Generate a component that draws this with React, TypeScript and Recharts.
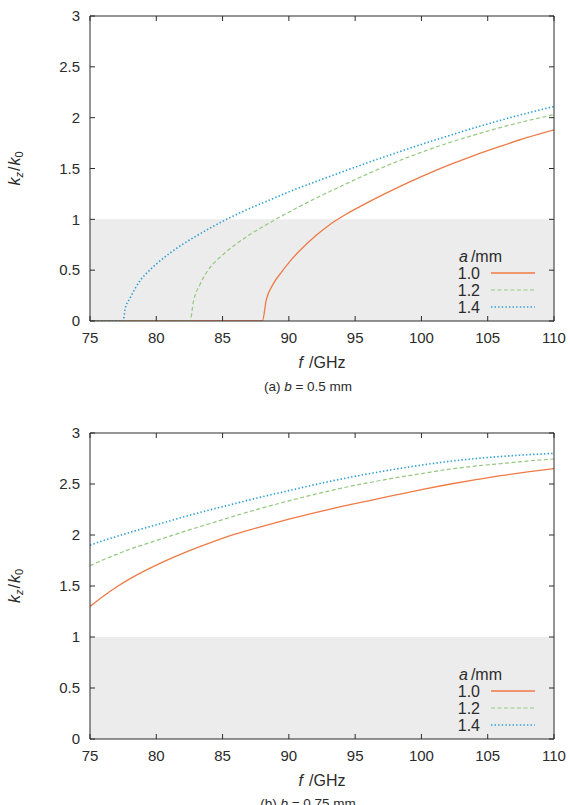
import React from "react";
import { LineChart, Line, XAxis, YAxis, ReferenceArea, Legend } from "recharts";

const FONT = '"Liberation Sans", Arial, sans-serif';
const INK = "#2b2b2b";

// axis ticks: frequency in GHz, k_z/k_0
const freqTicks = [75, 80, 85, 90, 95, 100, 105, 110];
const ratioTicks = [0, 0.5, 1, 1.5, 2, 2.5, 3];

// (a) b = 0.5 mm
const fA10 = [75, 88.0, 88.3, 88.8, 89.5, 90, 91, 92, 93, 94, 95, 96, 98, 100, 102, 104, 106, 108, 110];
const kA10 = [0, 0, 0.21, 0.36, 0.49, 0.575, 0.715, 0.835, 0.94, 1.025, 1.1, 1.17, 1.3, 1.42, 1.53, 1.63, 1.72, 1.805, 1.88];

const fA12 = [75, 82.55, 82.8, 83.3, 83.8, 84.5, 85, 86, 87, 88, 89, 90, 91, 92, 94, 96, 98, 100, 102, 104, 106, 108, 110];
const kA12 = [0, 0, 0.19, 0.36, 0.48, 0.59, 0.65, 0.755, 0.845, 0.925, 1.0, 1.07, 1.14, 1.205, 1.33, 1.45, 1.56, 1.66, 1.75, 1.83, 1.905, 1.97, 2.03];

const fA14 = [75, 77.5, 77.65, 78, 78.8, 79.5, 80, 81, 82, 83, 84, 85, 86, 87, 88, 89, 90, 92, 94, 96, 98, 100, 102, 104, 106, 108, 110];
const kA14 = [0, 0, 0.12, 0.22, 0.4, 0.5, 0.56, 0.665, 0.755, 0.835, 0.91, 0.98, 1.045, 1.105, 1.16, 1.215, 1.27, 1.37, 1.465, 1.56, 1.65, 1.737, 1.82, 1.9, 1.975, 2.045, 2.11];

// (b) b = 0.75 mm
const fB = [75, 76, 77, 78, 80, 82, 84, 86, 88, 90, 92, 94, 96, 98, 100, 102, 104, 106, 108, 110];
const kB10 = [1.3, 1.4, 1.49, 1.57, 1.705, 1.82, 1.92, 2.01, 2.085, 2.155, 2.22, 2.28, 2.335, 2.39, 2.445, 2.495, 2.54, 2.582, 2.618, 2.65];
const kB12 = [1.7, 1.757, 1.81, 1.86, 1.945, 2.03, 2.11, 2.19, 2.265, 2.335, 2.4, 2.46, 2.512, 2.56, 2.602, 2.643, 2.675, 2.7, 2.725, 2.745];
const kB14 = [1.9, 1.945, 1.985, 2.025, 2.1, 2.175, 2.245, 2.31, 2.375, 2.435, 2.495, 2.55, 2.6, 2.645, 2.685, 2.72, 2.748, 2.77, 2.787, 2.8];

const pts = (fs: number[], ks: number[]) => fs.map((f, i) => ({ f, k: ks[i] }));

type Curve = {
  name: string;
  color: string;
  dash?: string;
  width: number;
  data: { f: number; k: number }[];
};

const styles = [
  { name: "1.0", color: "#ee7a46", width: 1.3 },
  { name: "1.2", color: "#93c97e", dash: "4 2.5", width: 1.2 },
  { name: "1.4", color: "#2a9dd2", dash: "1.4 2.2", width: 1.6 },
];

const curvesA: Curve[] = [
  { ...styles[0], data: pts(fA10, kA10) },
  { ...styles[1], data: pts(fA12, kA12) },
  { ...styles[2], data: pts(fA14, kA14) },
];

const curvesB: Curve[] = [
  { ...styles[0], data: pts(fB, kB10) },
  { ...styles[1], data: pts(fB, kB12) },
  { ...styles[2], data: pts(fB, kB14) },
];

const YTitle = ({ viewBox }: any) => {
  const cx = viewBox.x + 20;
  const cy = viewBox.y + viewBox.height / 2;
  return (
    <text
      x={cx}
      y={cy}
      transform={`rotate(-90 ${cx} ${cy})`}
      textAnchor="middle"
      fill={INK}
      fontFamily={FONT}
      fontSize={16}>
      <tspan fontStyle="italic">k</tspan>
      <tspan fontStyle="italic" fontSize={11} dy={3}>z</tspan>
      <tspan dy={-3} dx={1}>/</tspan>
      <tspan fontStyle="italic" dx={1}>k</tspan>
      <tspan fontSize={11} dy={3}>0</tspan>
    </text>
  );
};

const XTitle = ({ viewBox }: any) => (
  <text
    x={viewBox.x + viewBox.width / 2}
    y={viewBox.y + 47}
    textAnchor="middle"
    fill={INK}
    fontFamily={FONT}
    fontSize={16}>
    <tspan fontStyle="italic">f</tspan>
    <tspan dx={6}>/GHz</tspan>
  </text>
);

const Key = () => (
  <svg width={95} height={70} style={{ display: "block" }}>
    <text x={4} y={15} fill={INK} fontFamily={FONT} fontSize={16}>
      <tspan fontStyle="italic">a</tspan>
      <tspan dx={3}>/mm</tspan>
    </text>
    {styles.map((s, i) => {
      const y = 26 + i * 17;
      return (
        <g key={s.name}>
          <text x={25} y={y + 6} textAnchor="end" fill={INK} fontFamily={FONT} fontSize={16}>
            {s.name}
          </text>
          <line x1={36} x2={80} y1={y} y2={y} stroke={s.color} strokeWidth={s.width} strokeDasharray={s.dash} />
        </g>
      );
    })}
  </svg>
);

function Panel({ curves, height, top, bottom }: { curves: Curve[]; height: number; top: number; bottom: number }) {
  const plotBottom = height - bottom - 30;
  const tickStyle = { fill: INK, fontSize: 15, fontFamily: FONT };
  return (
    <LineChart width={570} height={height} margin={{ top: top - 1, right: 15, left: 0, bottom }}>
      <ReferenceArea y1={0} y2={1} fill="#ececec" fillOpacity={1} stroke="none" ifOverflow="hidden" />
      <XAxis
        dataKey="f"
        type="number"
        domain={[75, 110]}
        ticks={freqTicks}
        height={30}
        tick={tickStyle}
        tickSize={-5}
        tickMargin={16}
        stroke={INK}
        allowDataOverflow
        label={{ content: XTitle }}
      />
      {/* mirrored frame: same domains, inward ticks, no labels */}
      <XAxis
        xAxisId="top"
        orientation="top"
        dataKey="f"
        type="number"
        domain={[75, 110]}
        ticks={freqTicks}
        height={1}
        tickSize={-5}
        tickFormatter={() => ""}
        stroke={INK}
        allowDataOverflow
      />
      <YAxis
        type="number"
        domain={[0, 3]}
        ticks={ratioTicks}
        width={90}
        tick={tickStyle}
        tickSize={-5}
        tickMargin={15}
        stroke={INK}
        allowDataOverflow
        label={{ content: YTitle }}
      />
      <YAxis
        yAxisId="right"
        orientation="right"
        type="number"
        domain={[0, 3]}
        ticks={ratioTicks}
        width={1}
        tickSize={-5}
        tickFormatter={() => ""}
        stroke={INK}
        allowDataOverflow
      />
      <Legend
        layout="horizontal"
        align="center"
        verticalAlign="middle"
        wrapperStyle={{ left: 455, top: plotBottom - 74, width: 95 }}
        content={Key}
      />
      {curves.map((c, i) => (
        <Line
          key={c.name}
          data={c.data}
          dataKey="k"
          name={c.name}
          // the last curve is plotted against the mirrored axes so they get drawn too
          xAxisId={i === curves.length - 1 ? "top" : 0}
          yAxisId={i === curves.length - 1 ? "right" : 0}
          type="monotone"
          stroke={c.color}
          strokeWidth={c.width}
          strokeDasharray={c.dash}
          dot={false}
          activeDot={false}
          isAnimationActive={false}
        />
      ))}
    </LineChart>
  );
}

const captionStyle: React.CSSProperties = {
  position: "absolute",
  left: 0,
  width: 616,
  textAlign: "center",
  fontFamily: FONT,
  fontSize: 13.5,
  lineHeight: "16px",
  color: INK,
};

export default function App() {
  return (
    <div
      style={{
        position: "absolute",
        left: 0,
        top: 0,
        width: 570,
        height: 805,
        overflow: "hidden",
        background: "#fff",
      }}>
      <div style={{ position: "absolute", left: 0, top: 0 }}>
        <Panel curves={curvesA} height={400} top={16} bottom={49} />
      </div>
      <div style={{ ...captionStyle, top: 379 }}>
        (a) <i>b</i> = 0.5 mm
      </div>
      <div style={{ position: "absolute", left: 0, top: 400 }}>
        <Panel curves={curvesB} height={405} top={33} bottom={36} />
      </div>
      <div style={{ ...captionStyle, top: 796 }}>
        (b) <i>b</i> = 0.75 mm
      </div>
    </div>
  );
}
